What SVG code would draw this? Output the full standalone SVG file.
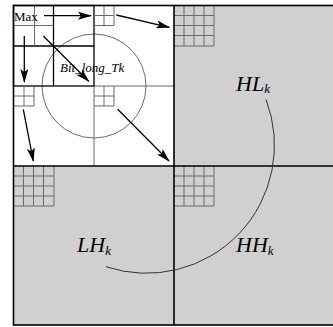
<svg xmlns="http://www.w3.org/2000/svg" width="333" height="327" viewBox="0 0 333 327">
<defs>
<style>
.q{fill:#d0d0d0;stroke:none}
.w{fill:#fff;stroke:none}
.bk{stroke:#000;stroke-width:1.6;fill:none}
.b1{stroke:#000;stroke-width:1.3;fill:none}
.gr{stroke:#6a6a6a;stroke-width:1;fill:none}
.ar{stroke:#000;stroke-width:1.3;fill:none;marker-end:url(#ah)}
.lbl{font-family:"Liberation Serif",serif;font-style:italic;fill:#000}
</style>
<marker id="ah" viewBox="0 0 14 8" refX="13" refY="4" markerWidth="14" markerHeight="8" markerUnits="userSpaceOnUse" orient="auto">
<path d="M0,0 L14,4 L0,8 L3,4 Z" fill="#000"/>
</marker>
</defs>
<g id="background">
<rect class="w" x="13.5" y="5.5" width="160.5" height="160.5"/>
<rect class="q" x="174" y="5.5" width="160" height="160.5"/>
<rect class="q" x="13.5" y="166" width="160.5" height="159"/>
<rect class="q" x="174" y="166" width="160" height="159"/>
</g>
<g id="LL_quadrant">
<line class="gr" x1="94" y1="86" x2="94" y2="166"/>
<line class="gr" x1="94" y1="86" x2="174" y2="86"/>
<circle class="gr" cx="94" cy="86" r="52"/>
<rect class="b1" x="13.5" y="5.5" width="80.5" height="80.5"/>
<line class="b1" x1="53.5" y1="5.5" x2="53.5" y2="86"/>
<line class="b1" x1="13.5" y1="46" x2="94" y2="46"/>
<line class="gr" x1="34.5" y1="5.5" x2="34.5" y2="46"/>
<line class="gr" x1="13.5" y1="25.5" x2="53.5" y2="25.5"/>
<path class="gr" d="M94,25.5 H114 V5.5 M104,5.5 V25.5 M94,15.5 H114"/>
<path class="gr" d="M13.5,106 H34 V86 M24,86 V106 M13.5,96 H34"/>
<path class="gr" d="M94,106 H114 V86 M104,86 V106 M94,96 H114"/>
<text x="14" y="20.5" font-family="Liberation Serif, serif" font-size="13">Max</text>
<text class="lbl" x="60" y="72" font-size="13">Bit_long_Tk</text>
</g>
<g id="HL_quadrant">
<path class="gr" d="M174,46 H214 V5.5 M184,5.5 V46 M194,5.5 V46 M204,5.5 V46 M174,15.5 H214 M174,25.5 H214 M174,35.5 H214"/>
<text class="lbl" x="236" y="90.5" font-size="22">HL<tspan font-size="13" dy="2.5">k</tspan></text>
</g>
<g id="LH_quadrant">
<path class="gr" d="M13.5,206 H54 V166 M23.5,166 V206 M33.5,166 V206 M43.5,166 V206 M13.5,176 H54 M13.5,186 H54 M13.5,196 H54"/>
<text class="lbl" x="77" y="252" font-size="22">LH<tspan font-size="13" dy="2.5">k</tspan></text>
</g>
<g id="HH_quadrant">
<path class="gr" d="M174,206 H214 V166 M184,166 V206 M194,166 V206 M204,166 V206 M174,176 H214 M174,186 H214 M174,196 H214"/>
<text class="lbl" x="236" y="252" font-size="22">HH<tspan font-size="13" dy="2.5">k</tspan></text>
</g>
<g id="frame">
<rect class="bk" x="13.5" y="5.5" width="321" height="319.5"/>
<line class="bk" x1="174" y1="5.5" x2="174" y2="325"/>
<line class="bk" x1="13.5" y1="166" x2="334" y2="166"/>
</g>
<g id="connectors">
<line class="ar" x1="44" y1="15.7" x2="91" y2="15.7"/>
<line class="ar" x1="116.3" y1="15" x2="169.3" y2="27.3"/>
<line class="ar" x1="24.3" y1="36" x2="24.3" y2="82"/>
<line class="ar" x1="43.3" y1="36" x2="88.7" y2="81.3"/>
<line class="ar" x1="23.3" y1="109.3" x2="33.3" y2="161"/>
<line class="ar" x1="117.7" y1="109.3" x2="169" y2="161"/>
<path d="M266,99.5 A128,128 0 0 1 106,266.7" fill="none" stroke="#333" stroke-width="1"/>
</g>
</svg>
